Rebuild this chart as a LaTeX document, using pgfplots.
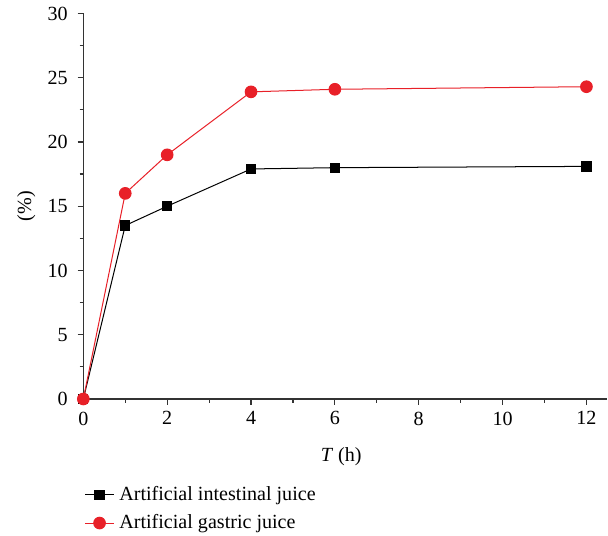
\documentclass[border=0pt]{standalone}
\usepackage{fontspec}
\setmainfont{Liberation Serif}
\usepackage{pgfplots}
\pgfplotsset{compat=1.18}
\definecolor{myred}{RGB}{232,32,40}
\begin{document}
\fontsize{10}{12}\selectfont
\begin{tikzpicture}
\begin{axis}[
  scale only axis,
  width=261pt, height=192pt,
  xmin=0, xmax=12.5, ymin=0, ymax=30,
  axis lines*=left,
  axis line style={-, line width=0.6pt, black!80},
  tick align=outside,
  xtick align=outside, ytick align=outside,
  major tick length=2.8pt, minor tick length=1.8pt,
  tick style={line width=0.6pt, black!80},
  xtick={0,2,...,12}, ytick={0,5,...,30},
  minor x tick num=1, minor y tick num=1,
  /pgf/number format/assume math mode=true,
  ticklabel style={font=\fontsize{10}{12}\selectfont},
  yticklabel style={xshift=-1.5pt},
  xlabel={\textit{T} (h)}, ylabel={(\%)},
  label style={font=\fontsize{10}{12}\selectfont},
  every axis x label/.style={at={(axis description cs:0.492,-0.15)}, anchor=center},
  every axis y label/.style={at={(axis description cs:-0.109,0.5)}, rotate=90, anchor=center},
  clip=false,
  legend style={at={(axis description cs:0.002,-0.215)}, anchor=north west, draw=none, fill=none,
    font=\fontsize{10}{12}\selectfont, row sep=1.5pt, inner sep=0pt,
    nodes={inner xsep=2.5pt}},
  legend cell align=left,
  legend image code/.code={%
    \draw[mark repeat=2,mark phase=2,#1] plot coordinates {(0cm,0cm) (0.25cm,0cm) (0.5cm,0cm)};},
]
\addplot[black, line width=0.5pt, mark=square*, mark size=2.3pt, mark options={fill=black}]
  coordinates {(0,0) (1,13.5) (2,15) (4,17.9) (6,18.0) (12,18.1)};
\addlegendentry{Artificial intestinal juice}
\addplot[myred, line width=0.5pt, mark=*, mark size=2.9pt, mark options={fill=myred}]
  coordinates {(0,0) (1,16.0) (2,19.0) (4,23.9) (6,24.1) (12,24.3)};
\addlegendentry{Artificial gastric juice}
\end{axis}
\path (current axis.south west) ++(-41.5pt,0pt) coordinate (bbl);
\path (bbl) -- ++(0,1pt);
\end{tikzpicture}
\end{document}
